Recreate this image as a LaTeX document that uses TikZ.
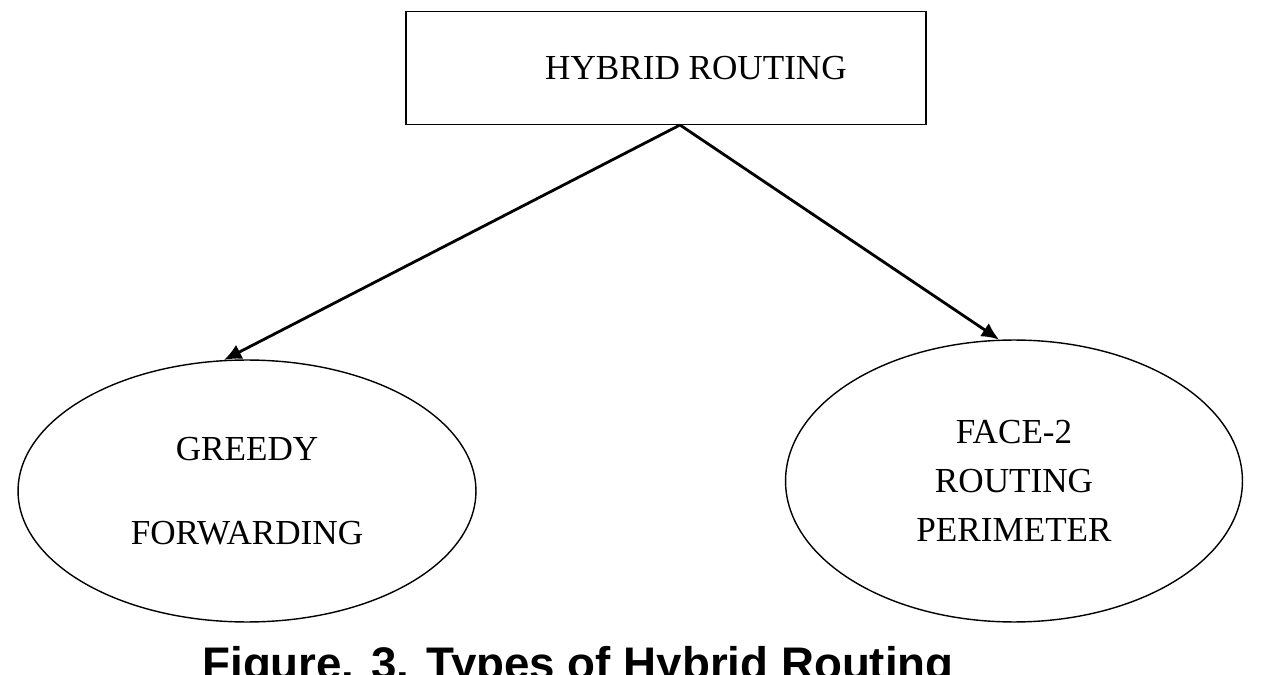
\documentclass[tikz,border=0pt]{standalone}
\usepackage{fontspec}
\setmainfont{Liberation Serif}
\setsansfont{Liberation Sans}
\usetikzlibrary{shapes.geometric,arrows.meta}
\begin{document}
\begin{tikzpicture}[x=0.02cm,y=-0.02cm,
	label text/.style={font=\fontsize{20}{28}\selectfont, align=center},
	oval/.style={draw, ellipse, line width=0.8pt, label text},
	link/.style={-{Latex[length=10pt,width=9pt]}, line width=1.6pt}]
	\useasboundingbox (0,0) rectangle (1268,675);
	%The top box
	\node[draw, line width=0.9pt, minimum width=10.4cm, minimum height=2.26cm, label text] (hybrid) at (666,68) {\hspace{1.2cm}HYBRID ROUTING};
	%The two ellipses
	\node[oval, minimum width=9.16cm, minimum height=5.24cm] (greedy) at (247,491) {GREEDY\\[0.7cm]FORWARDING};
	\node[oval, minimum width=9.14cm, minimum height=5.64cm] (face) at (1014,481) {FACE-2\\ROUTING\\PERIMETER};
	%The arrows
	\coordinate (root) at (680,125);
	\draw[link] (root) -- (greedy.100);
	\draw[link] (root) -- (face.96);
	\node[font=\sffamily\bfseries\fontsize{26}{32}\selectfont] (caption) at (578,668) {Figure. 3. Types of Hybrid Routing};
\end{tikzpicture}
\end{document}
